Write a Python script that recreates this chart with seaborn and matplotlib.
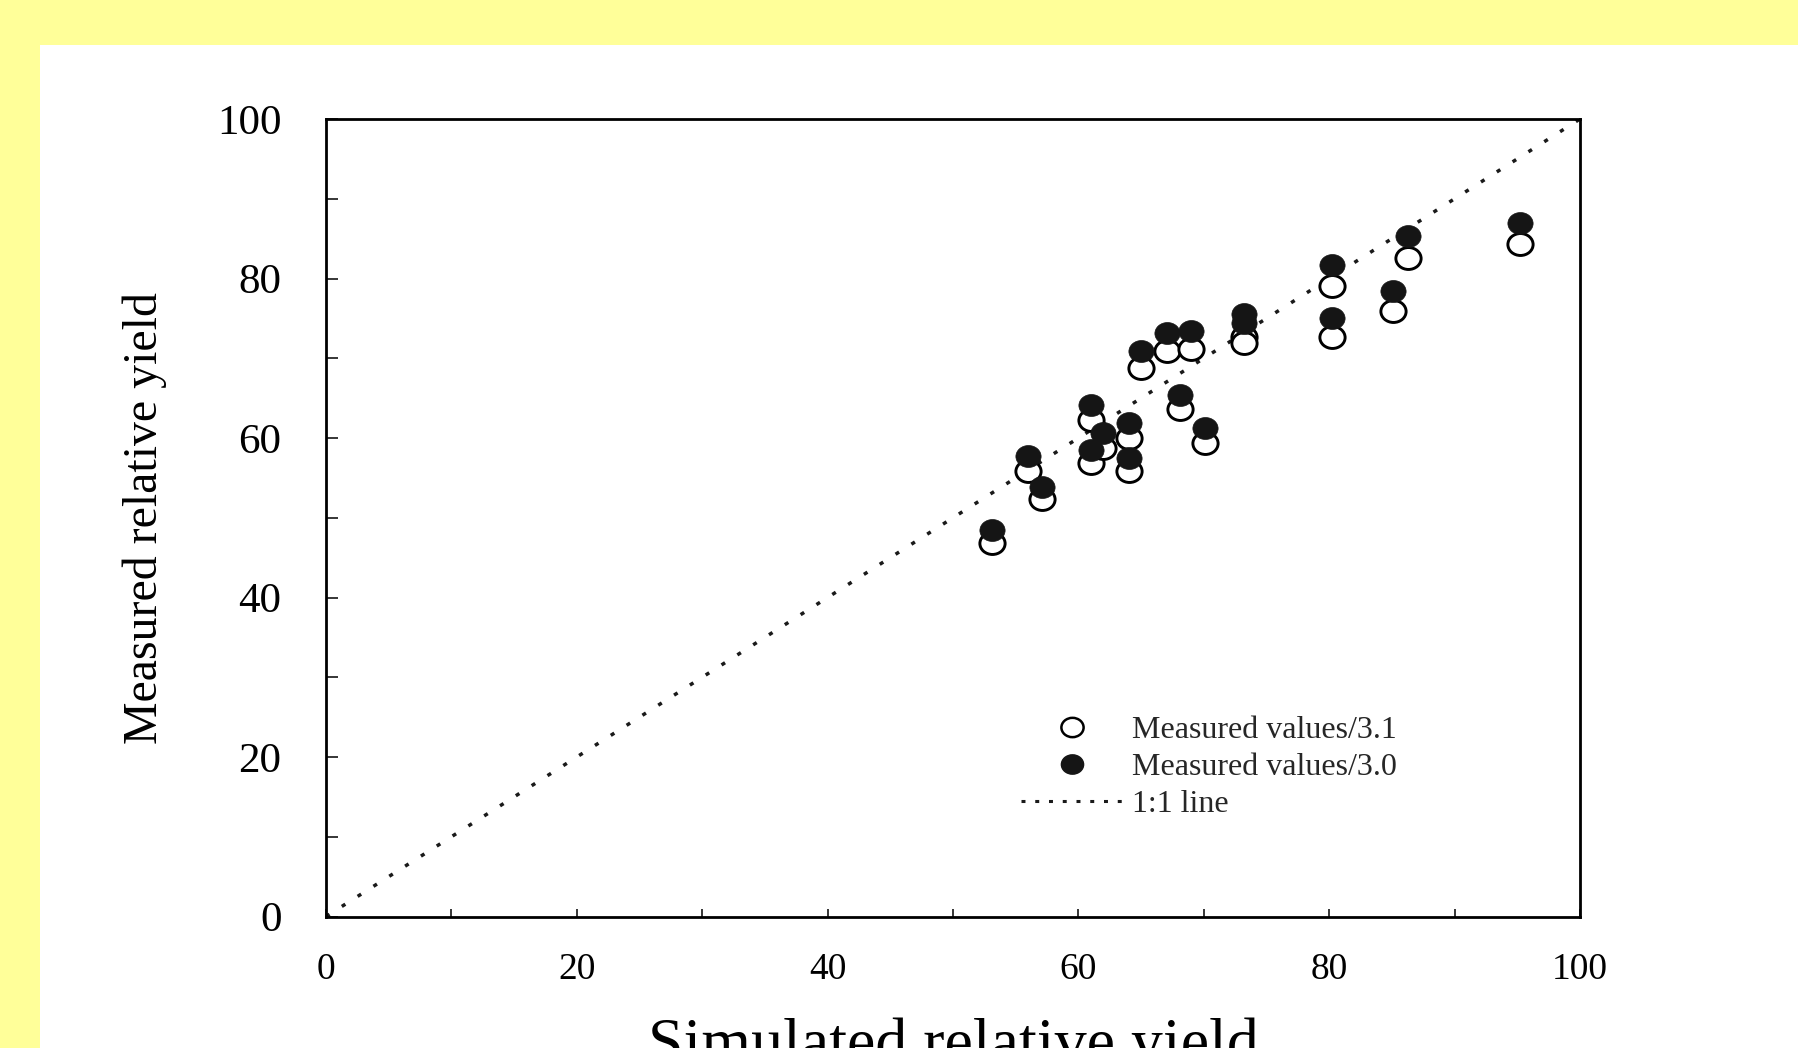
import numpy as np
import pandas as pd
import matplotlib
matplotlib.use("Agg")
import matplotlib.pyplot as plt
from matplotlib.path import Path
from matplotlib.transforms import Affine2D
from matplotlib.lines import Line2D
from matplotlib.patches import Rectangle
import seaborn as sns

# ---- data ----
simulated = [53.1, 56.0, 57.1, 61.0, 61.0, 62.0, 64.0, 64.0, 65.0, 67.1,
             69.0, 68.1, 70.1, 73.2, 73.2, 80.2, 80.2, 85.1, 86.3, 95.2]
measured_30 = [48.5, 57.7, 53.9, 64.2, 58.5, 60.6, 61.9, 57.5, 70.9, 73.2,
               73.4, 65.4, 61.3, 75.5, 74.4, 81.7, 75.0, 78.4, 85.3, 87.0]
measured_31 = [46.8, 55.8, 52.3, 62.2, 56.9, 58.7, 60.0, 55.8, 68.8, 70.9,
               71.1, 63.6, 59.4, 72.7, 71.9, 79.0, 72.7, 75.9, 82.6, 84.3]
line_x = [0, 100]
line_y = [0, 100]
x_ticks = [0, 20, 40, 60, 80, 100]
y_ticks = [0, 20, 40, 60, 80, 100]
minor_ticks = [10, 30, 50, 70, 90]
label_31 = "Measured values/3.1"
label_30 = "Measured values/3.0"
label_line = "1:1 line"
x_label = "Simulated relative yield"
y_label = "Measured relative yield"

sns.set_theme(style="ticks")
plt.rcParams["font.family"] = ["Liberation Serif", "DejaVu Serif"]

W, H = 1798, 1048
fig = plt.figure(figsize=(W / 100, H / 100), dpi=100)
fig.patch.set_facecolor("#FFFF99")
fig.patches.append(Rectangle((40 / W, 0), 1, (H - 45) / H, transform=fig.transFigure,
                             facecolor="white", edgecolor="none", zorder=-10))

ax = fig.add_axes([326 / W, (H - 916.5) / H, (1580 - 326) / W, (916.5 - 119) / H])
ax.set_facecolor("white")
ax.set_zorder(1)

# slightly wide ellipse marker (the scan is stretched horizontally)
ell = Path.unit_circle().transformed(Affine2D().scale(1.15, 1.0))

df = pd.DataFrame({"sim": simulated, "m30": measured_30, "m31": measured_31})

dots = (0, (1.2, 4.2))
sns.lineplot(x=line_x, y=line_y, ax=ax, color="#1a1a1a", lw=2.5,
             linestyle=dots, zorder=1)
sns.scatterplot(data=df, x="sim", y="m31", ax=ax, marker=ell, s=330,
                facecolor="white", edgecolor="black", linewidth=2.1, zorder=2)
sns.scatterplot(data=df, x="sim", y="m30", ax=ax, marker=ell, s=330,
                color="#151515", edgecolor="#151515", linewidth=0.5, zorder=3)

ax.set_xlim(0, 100)
ax.set_ylim(0, 100)
ax.set_xticks(x_ticks)
ax.set_yticks(y_ticks)
ax.set_xticks(minor_ticks, minor=True)
ax.set_yticks(minor_ticks, minor=True)
ax.set_xticklabels([str(t) for t in x_ticks])
ax.set_yticklabels([str(t) for t in y_ticks])

for s in ax.spines.values():
    s.set_visible(True)
    s.set_linewidth(2.0)
    s.set_color("black")

ax.tick_params(axis="x", which="both", direction="in", length=5.5, width=1.1,
               pad=26, labelsize=27, colors="black")
ax.tick_params(axis="y", which="both", direction="in", length=8.5, width=1.1,
               pad=32, labelsize=31, colors="black")
ax.tick_params(top=False, right=False)

ax.set_xlabel(x_label, fontsize=46, color="black")
ax.xaxis.set_label_coords(0.5, (916.5 - 1017) / 797.5)
ax.set_ylabel(y_label, fontsize=34.5, color="black")
ax.yaxis.set_label_coords((167 - 326) / 1254, 0.5)

handles = [
    Line2D([], [], marker=ell, markersize=16, markerfacecolor="white",
           markeredgecolor="black", markeredgewidth=1.8, linestyle="none"),
    Line2D([], [], marker=ell, markersize=16, markerfacecolor="#151515",
           markeredgecolor="#151515", linestyle="none"),
    Line2D([], [], color="#1a1a1a", lw=2.2, linestyle=(0, (1.3, 3.2))),
]
ax.legend(handles, [label_31, label_30, label_line], loc="upper left",
          bbox_to_anchor=(1021 / W, (H - 716) / H), bbox_transform=fig.transFigure,
          frameon=False, fontsize=23, handlelength=3.22, handletextpad=0.25,
          labelspacing=0.24, borderpad=0, borderaxespad=0)

fig.savefig("out.png", dpi=100, facecolor=fig.get_facecolor())
